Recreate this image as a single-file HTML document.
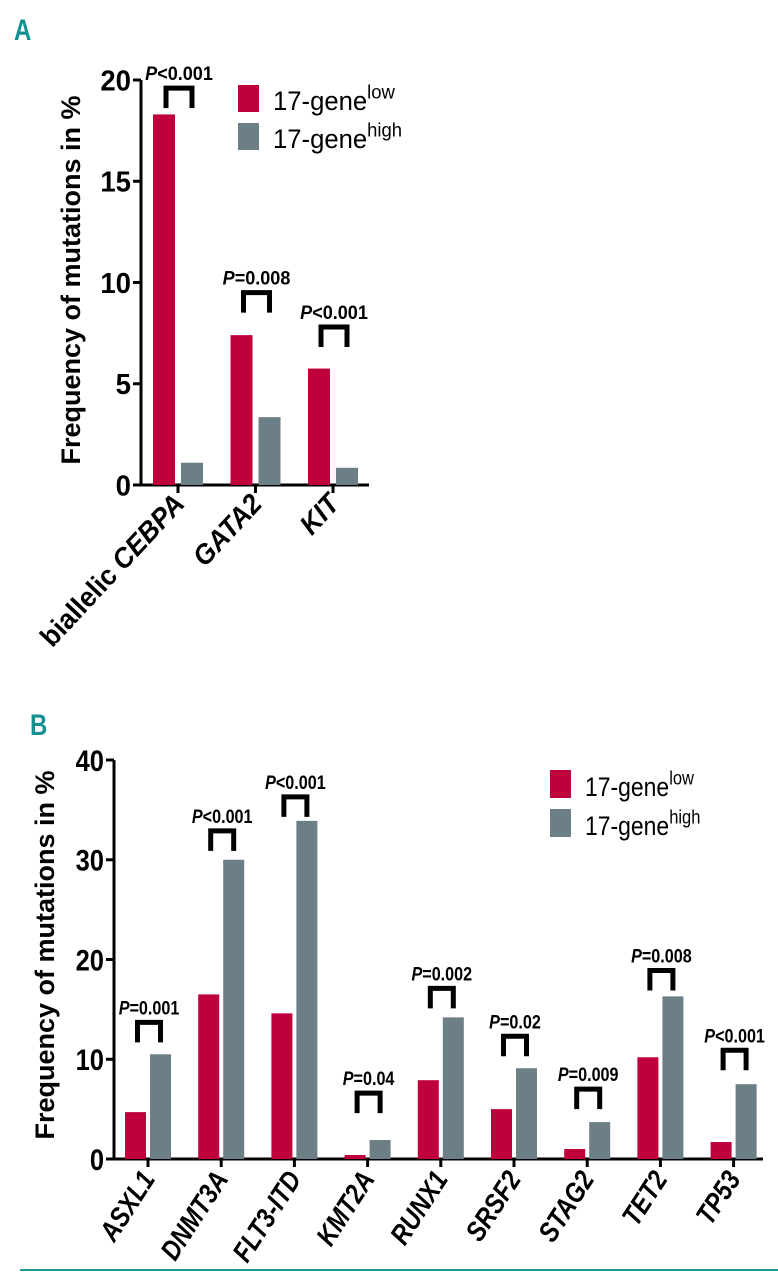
<!DOCTYPE html>
<html><head><meta charset="utf-8"><style>
body{margin:0;background:#fff;}
svg{display:block;font-family:"Liberation Sans",sans-serif;}
</style></head><body>
<svg id="c" width="778" height="1280" viewBox="0 0 778 1280">
<text x="14" y="40" font-size="30" font-weight="bold" fill="#14918f" transform="translate(14,40) scale(0.8,1) translate(-14,-40)">A</text>
<text x="30" y="735" font-size="30" font-weight="bold" fill="#14918f" transform="translate(30,735) scale(0.8,1) translate(-30,-735)">B</text>
<line x1="20" y1="1270" x2="778" y2="1270" stroke="#1a9a9a" stroke-width="2"/>
<g id="ga"></g>
<g id="gb"></g>
</svg>
<script>
const catsA=["biallelic CEBPA","GATA2","KIT"];
const lowA=[18.3,7.4,5.75];
const highA=[1.1,3.35,0.85];
const pA=["<0.001","=0.008","<0.001"];
const pTopA=[19.6,9.5,7.8];
const ticksA=[0,5,10,15,20];

const catsB=["ASXL1","DNMT3A","FLT3-ITD","KMT2A","RUNX1","SRSF2","STAG2","TET2","TP53"];
const lowB=[4.7,16.5,14.6,0.4,7.9,5.0,1.0,10.2,1.7];
const highB=[10.5,30,33.9,1.9,14.2,9.1,3.7,16.3,7.5];
const pB=["=0.001","<0.001","<0.001","=0.04","=0.002","=0.02","=0.009","=0.008","<0.001"];
const pTopB=[13.7,32.9,36.3,6.6,17.1,12.3,7.0,18.9,10.9];
const ticksB=[0,10,20,30,40];

const NS="http://www.w3.org/2000/svg";
function mk(p,t,a){const e=document.createElementNS(NS,t);for(const k in a)e.setAttribute(k,a[k]);p.appendChild(e);return e;}
const RED="#c0003a",GRAY="#6c7e86";

function panel(g,o){
  const y=v=>o.y0-(v/o.ymax)*(o.y0-o.ytop);
  const x=i=>o.x0+i*o.step;
  const sx=o.sx;
  let e=mk(g,"line",{x1:o.ax,y1:o.ytop,x2:o.ax,y2:o.y0+1.5,stroke:"#000","stroke-width":3});
  
  
  e=mk(g,"line",{x1:o.ax-1.5,y1:o.y0,x2:o.axEnd,y2:o.y0,stroke:"#000","stroke-width":3});
  
  
  o.ticks.forEach(t=>{
    e=mk(g,"line",{x1:o.ax-8,y1:y(t),x2:o.ax,y2:y(t),stroke:"#000","stroke-width":3});
    
    
    e=mk(g,"text",{x:0,y:0,"text-anchor":"end","font-size":o.tfs,"font-weight":"bold",transform:`translate(${o.ax-10},${y(t)+o.tfs*0.36}) scale(${sx},1)`});
    e.textContent=t;
    
    
  });
  e=mk(g,"text",{x:0,y:0,"text-anchor":"middle","font-size":o.yfs,"font-weight":"bold",transform:`translate(${o.ylx},${o.yly}) rotate(-90)`});
  e.textContent="Frequency of mutations in %";
  
  
  o.cats.forEach((c,i)=>{
    const cx=x(i);
    e=mk(g,"line",{x1:cx,y1:o.y0,x2:cx,y2:o.y0+8,stroke:"#000","stroke-width":3});
    
    
    e=mk(g,"rect",{x:cx-o.bw-o.gap/2,y:y(o.low[i]),width:o.bw,height:o.y0-y(o.low[i]),fill:RED});
    
    
    e=mk(g,"rect",{x:cx+o.gap/2,y:y(o.high[i]),width:o.bw,height:o.y0-y(o.high[i]),fill:GRAY});
    
    
    const bt=y(o.pTop[i]),bl=cx-o.bw/2-o.gap/2+2,br=cx+o.bw/2+o.gap/2;
    e=mk(g,"path",{d:`M${bl} ${bt+20}V${bt}H${br}V${bt+20}`,fill:"none",stroke:"#000","stroke-width":5});
    
    
    e=mk(g,"text",{x:0,y:0,"text-anchor":"middle","font-size":o.pfs,"font-weight":"bold",transform:`translate(${(bl+br)/2},${bt-8}) scale(${sx},1)`});
    const ti=mk(e,"tspan",{"font-style":"italic"});ti.textContent="P";
    const tr=mk(e,"tspan",{});tr.textContent=o.p[i];
    
    
    e=mk(g,"text",{x:0,y:0,"text-anchor":"end","font-size":o.xfs,"font-weight":"bold",transform:`translate(${cx+8},${o.y0+20}) rotate(${o.rot}) scale(${sx},1)`});
    if(c.startsWith("biallelic ")){
      const a=mk(e,"tspan",{});a.textContent="biallelic ";
      const b=mk(e,"tspan",{"font-style":"italic"});b.textContent=c.slice(10);
    } else {e.setAttribute("font-style","italic");e.textContent=c;}
    
    
  });
  [["low",RED],["high",GRAY]].forEach((L,k)=>{
    const ly=o.legY+k*o.legDy;
    e=mk(g,"rect",{x:o.legX,y:ly,width:21,height:o.legH,fill:L[1]});
    
    
    e=mk(g,"text",{x:0,y:0,"font-size":o.lfs,transform:`translate(${o.legX+35},${ly+o.legH-2}) scale(${sx},1)`});
    const a=mk(e,"tspan",{});a.textContent="17-gene";
    const b=mk(e,"tspan",{"font-size":o.lfs*0.72,dy:-o.lfs*0.42});b.textContent=L[0];
    
    
  });
}
panel(document.getElementById("ga"),{cats:catsA,low:lowA,high:highA,p:pA,pTop:pTopA,ticks:ticksA,sx:0.95,
  y0:485,ytop:80,ymax:20,ax:141,axEnd:369,x0:178,step:77.5,bw:22,gap:6,
  tfs:29,yfs:27,pfs:19,xfs:28,rot:-47,ylx:80,yly:280,legX:238,legY:85,legDy:38,legH:27,lfs:27});
panel(document.getElementById("gb"),{cats:catsB,low:lowB,high:highB,p:pB,pTop:pTopB,ticks:ticksB,sx:0.85,
  y0:1159,ytop:760,ymax:40,ax:114,axEnd:763,x0:148,step:73.2,bw:21,gap:4,
  tfs:30,yfs:27,pfs:19,xfs:28,rot:-57,ylx:54,yly:955,legX:550,legY:770,legDy:39,legH:28,lfs:27});
</script>
</body></html>
